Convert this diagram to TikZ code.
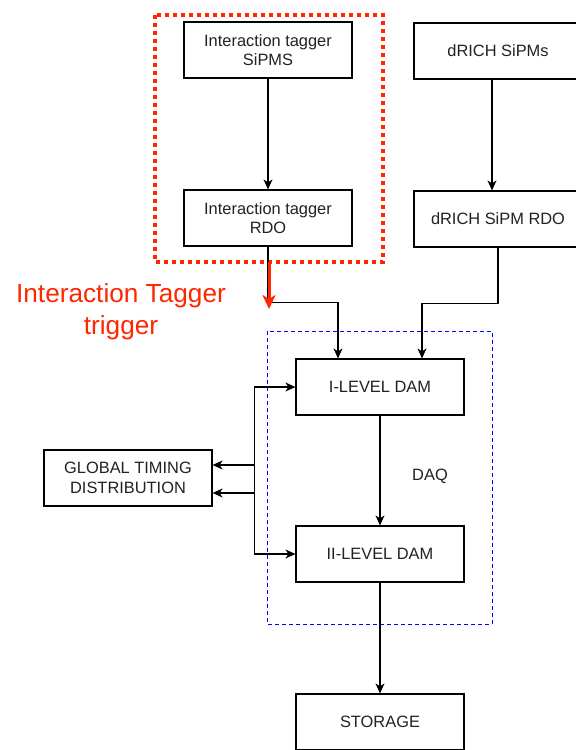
\documentclass[tikz,border=0pt]{standalone}
\usepackage{fontspec}
\setmainfont{Liberation Sans}
\usetikzlibrary{arrows.meta}
\definecolor{tagred}{RGB}{255,38,0}
\definecolor{txtgray}{RGB}{34,34,34}
\tikzset{
  box/.style={draw=black, line width=1.2bp, rectangle, minimum width=168bp, minimum height=56bp,
    inner sep=0pt, align=center, text=txtgray, font=\fontsize{16.4bp}{19.5bp}\selectfont},
  conn/.style={draw=black, line width=1.2bp, -{Stealth[length=10bp,width=9bp,inset=3bp]}},
  biconn/.style={draw=black, line width=1.2bp, {Stealth[length=10bp,width=9bp,inset=3bp]}-{Stealth[length=10bp,width=9bp,inset=3bp]}},
  lbl/.style={text=txtgray, font=\fontsize{16.4bp}{19.5bp}\selectfont, inner sep=0pt}
}
\begin{document}
\begin{tikzpicture}[x=1bp,y=-1bp]
\clip (0,0) rectangle (576,750);
\fill[white] (0,0) rectangle (576,750);

% group frames
\draw[tagred, line width=4bp, dash pattern=on 4bp off 4bp] (155,15) rectangle (383,262);
\draw[blue, line width=1bp, dash pattern=on 4bp off 3bp] (267,331) rectangle (492,624);

% boxes
\node[box] (itsipm) at (268,50) {Interaction tagger\\SiPMS};
\node[box] (itrdo) at (268,218) {Interaction tagger\\RDO};
\node[box] (dsipm) at (498,51) {dRICH SiPMs};
\node[box] (drdo) at (498,219) {dRICH SiPM RDO};
\node[box] (dam1) at (380,387) {I-LEVEL DAM};
\node[box] (dam2) at (380,554) {II-LEVEL DAM};
\node[box] (storage) at (380,722) {STORAGE};
\node[box] (gtd) at (128,478) {GLOBAL TIMING\\DISTRIBUTION};
\node[lbl] (daq) at (430,476) {DAQ};
\node[text=tagred, align=center, inner sep=0pt, font=\fontsize{26.2bp}{32bp}\selectfont] (itlabel) at (121,312) {Interaction Tagger\\trigger};

% connectors
\draw[conn] (itsipm.south) -- (itrdo.north);
\draw[conn] ([xshift=-6bp]dsipm.south) -- ([xshift=-6bp]drdo.north);
\draw[conn] (itrdo.south) -- ++(0,56) -| ([xshift=-42bp]dam1.north);
\draw[conn] (drdo.south) -- ++(0,56) -| ([xshift=42bp]dam1.north);
\draw[conn] (dam1.south) -- (dam2.north);
\draw[conn] (dam2.south) -- (storage.north);
\draw[biconn] ([yshift=-15bp]gtd.east) -- ++(42,0) |- (dam1.west);
\draw[biconn] ([yshift=13bp]gtd.east) -- ++(42,0) |- (dam2.west);

% red trigger arrow
\coordinate (trigA) at (269,262);
\coordinate (trigB) at (269,309);
\draw[tagred, line width=3bp, -{Stealth[length=14bp,width=13bp,inset=4bp]}] (trigA) -- (trigB);
\end{tikzpicture}
\end{document}
